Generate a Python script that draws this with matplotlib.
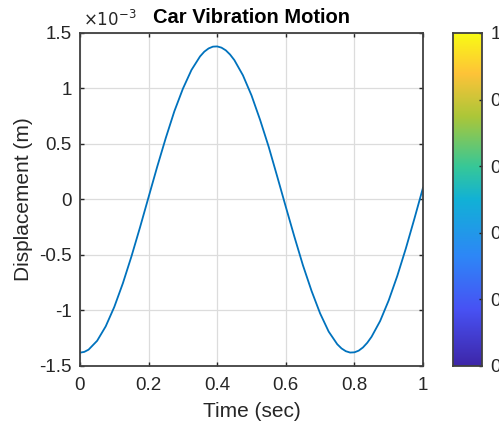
import numpy as np
import matplotlib
matplotlib.use('Agg')
import matplotlib.pyplot as plt
from matplotlib.colors import LinearSegmentedColormap

# time (sec) and displacement (units of 1e-3 m)
t = [0.0, 0.0125, 0.025, 0.05, 0.075, 0.1, 0.125, 0.15, 0.175, 0.2, 0.225,
     0.25, 0.275, 0.3, 0.325, 0.35, 0.3625, 0.375, 0.3875, 0.4, 0.4125, 0.425,
     0.4375, 0.45, 0.475, 0.5, 0.525, 0.55, 0.575, 0.6, 0.625, 0.65, 0.675, 0.7,
     0.725, 0.75, 0.7625, 0.775, 0.7875, 0.8, 0.8125, 0.825, 0.8375, 0.85, 0.875,
     0.9, 0.925, 0.95, 0.975, 1.0]
disp = [-1.38, -1.373, -1.353, -1.273, -1.143, -0.968, -0.755, -0.513, -0.251, 0.022, 0.294,
        0.553, 0.794, 0.998, 1.167, 1.289, 1.332, 1.361, 1.377, 1.379, 1.368, 1.344,
        1.306, 1.256, 1.119, 0.938, 0.718, 0.476, 0.207, -0.066, -0.335, -0.593, -0.823, -1.026,
        -1.190, -1.304, -1.342, -1.367, -1.379, -1.377, -1.362, -1.333, -1.291, -1.237, -1.095,
        -0.909, -0.689, -0.441, -0.172, 0.106]

xticks = [0, 0.2, 0.4, 0.6, 0.8, 1]
xtick_labels = ['0', '0.2', '0.4', '0.6', '0.8', '1']
yticks = [-1.5, -1, -0.5, 0, 0.5, 1, 1.5]
ytick_labels = ['-1.5', '-1', '-0.5', '0', '0.5', '1', '1.5']
cb_ticks = [0, 0.2, 0.4, 0.6, 0.8, 1]
cb_labels = ['0', '0.2', '0.4', '0.6', '0.8', '1']

plt.rcParams['font.family'] = ['Liberation Sans', 'DejaVu Sans']
gray = '#262626'

parula = LinearSegmentedColormap.from_list('parula', [
    (0.0, (0.2422, 0.1504, 0.6603)),
    (0.17, (0.2810, 0.3228, 0.9579)),
    (0.33, (0.1786, 0.5289, 0.9682)),
    (0.5, (0.0689, 0.6948, 0.8394)),
    (0.6, (0.2161, 0.7843, 0.5923)),
    (0.75, (0.6720, 0.7793, 0.2227)),
    (0.88, (0.9970, 0.7659, 0.2199)),
    (1.0, (0.9769, 0.9839, 0.0805))])

fig = plt.figure(figsize=(4.99, 4.23), dpi=100)
ax = fig.add_axes([0.1603, 0.1348, 0.6874, 0.7872])

ax.plot(t, disp, color='#0072BD', lw=1.3)
ax.set_xlim(0, 1)
ax.set_ylim(-1.5, 1.5)
ax.set_xticks(xticks)
ax.set_xticklabels(xtick_labels)
ax.set_yticks(yticks)
ax.set_yticklabels(ytick_labels)
ax.grid(True, color='#dcdcdc', lw=0.9)
ax.set_axisbelow(True)
ax.tick_params(direction='in', length=3, width=1, top=True, right=True,
               labelsize=13.5, labelcolor=gray, colors=gray, pad=6)
ax.tick_params(axis='x', pad=8)
for s in ax.spines.values():
    s.set_color('#404040')
    s.set_linewidth(1.3)

ax.set_xlabel('Time (sec)', fontsize=15, color=gray, labelpad=6)
ax.set_ylabel('Displacement (m)', fontsize=15, color=gray, labelpad=4)
ax.set_title('Car Vibration Motion', fontsize=14.5, fontweight='bold', color='black', pad=7)
ax.text(0.008, 1.012, r'$\times10^{-3}$', transform=ax.transAxes, fontsize=12,
        color=gray, ha='left', va='bottom')

cax = fig.add_axes([0.9078, 0.1348, 0.0581, 0.7872])
grad = np.linspace(0, 1, 256).reshape(-1, 1)
cax.imshow(grad, aspect='auto', cmap=parula, origin='lower', extent=[0, 1, 0, 1])
cax.set_xticks([])
cax.yaxis.tick_right()
cax.set_yticks(cb_ticks)
cax.set_yticklabels(cb_labels)
cax.tick_params(direction='in', length=2.5, width=1, labelsize=13.5, labelcolor=gray,
                colors='#202020', pad=6)
for s in cax.spines.values():
    s.set_color('#404040')
    s.set_linewidth(1.3)

fig.savefig('out.png', dpi=100)
